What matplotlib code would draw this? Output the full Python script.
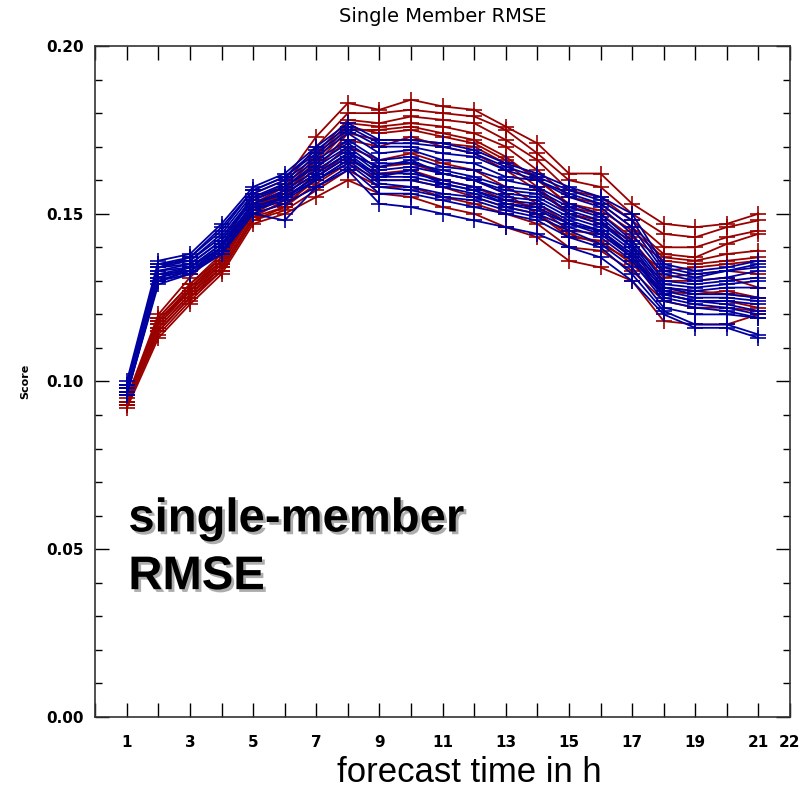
import numpy as np
import matplotlib
matplotlib.use("Agg")
import matplotlib.pyplot as plt
from matplotlib.ticker import MultipleLocator, FixedLocator
import matplotlib.patheffects as pe

# forecast hours
hours = list(range(1, 22))

# red member set
red_members = [
    [0.095, 0.120, 0.131, 0.140, 0.156, 0.160, 0.173, 0.183, 0.181, 0.184, 0.182, 0.181, 0.176, 0.171, 0.162, 0.162, 0.153, 0.147, 0.146, 0.147, 0.150],
    [0.094, 0.119, 0.129, 0.138, 0.154, 0.159, 0.170, 0.180, 0.180, 0.181, 0.180, 0.179, 0.175, 0.168, 0.160, 0.158, 0.150, 0.144, 0.143, 0.146, 0.148],
    [0.094, 0.118, 0.128, 0.137, 0.153, 0.158, 0.168, 0.178, 0.177, 0.179, 0.178, 0.177, 0.172, 0.166, 0.157, 0.155, 0.148, 0.140, 0.140, 0.143, 0.145],
    [0.093, 0.117, 0.127, 0.136, 0.152, 0.157, 0.167, 0.177, 0.176, 0.177, 0.176, 0.174, 0.170, 0.163, 0.155, 0.153, 0.146, 0.138, 0.137, 0.141, 0.144],
    [0.093, 0.116, 0.126, 0.135, 0.151, 0.156, 0.165, 0.175, 0.175, 0.176, 0.174, 0.172, 0.167, 0.160, 0.153, 0.151, 0.145, 0.137, 0.136, 0.138, 0.139],
    [0.094, 0.118, 0.128, 0.136, 0.150, 0.155, 0.164, 0.172, 0.170, 0.173, 0.170, 0.168, 0.163, 0.157, 0.150, 0.148, 0.140, 0.133, 0.134, 0.135, 0.136],
    [0.093, 0.115, 0.125, 0.134, 0.149, 0.154, 0.162, 0.170, 0.166, 0.168, 0.165, 0.163, 0.158, 0.153, 0.147, 0.145, 0.138, 0.130, 0.130, 0.131, 0.128],
    [0.094, 0.117, 0.127, 0.135, 0.150, 0.153, 0.160, 0.166, 0.162, 0.163, 0.160, 0.158, 0.154, 0.152, 0.145, 0.144, 0.137, 0.128, 0.127, 0.126, 0.125],
    [0.093, 0.116, 0.126, 0.134, 0.149, 0.152, 0.159, 0.165, 0.160, 0.160, 0.158, 0.155, 0.152, 0.150, 0.143, 0.142, 0.135, 0.126, 0.124, 0.124, 0.122],
    [0.093, 0.114, 0.124, 0.133, 0.148, 0.151, 0.157, 0.163, 0.158, 0.158, 0.155, 0.153, 0.150, 0.147, 0.140, 0.139, 0.133, 0.124, 0.122, 0.122, 0.121],
    [0.092, 0.113, 0.123, 0.132, 0.147, 0.150, 0.155, 0.160, 0.156, 0.155, 0.152, 0.150, 0.146, 0.143, 0.136, 0.134, 0.130, 0.118, 0.117, 0.117, 0.120],
    [0.094, 0.119, 0.129, 0.137, 0.152, 0.156, 0.166, 0.176, 0.174, 0.175, 0.173, 0.171, 0.166, 0.161, 0.152, 0.150, 0.143, 0.136, 0.135, 0.136, 0.137],
    [0.093, 0.115, 0.125, 0.133, 0.148, 0.152, 0.161, 0.168, 0.164, 0.165, 0.162, 0.160, 0.156, 0.150, 0.144, 0.141, 0.136, 0.127, 0.126, 0.127, 0.125],
    [0.094, 0.118, 0.127, 0.136, 0.151, 0.157, 0.163, 0.174, 0.172, 0.172, 0.171, 0.170, 0.165, 0.158, 0.150, 0.147, 0.142, 0.131, 0.132, 0.133, 0.132],
]

# blue member set
blue_members = [
    [0.100, 0.136, 0.138, 0.147, 0.158, 0.162, 0.170, 0.177, 0.172, 0.172, 0.171, 0.169, 0.165, 0.162, 0.158, 0.155, 0.150, 0.135, 0.133, 0.134, 0.136],
    [0.099, 0.135, 0.137, 0.145, 0.157, 0.161, 0.168, 0.175, 0.170, 0.170, 0.168, 0.167, 0.163, 0.160, 0.156, 0.153, 0.146, 0.133, 0.131, 0.133, 0.135],
    [0.099, 0.135, 0.136, 0.144, 0.156, 0.160, 0.167, 0.174, 0.168, 0.169, 0.166, 0.165, 0.161, 0.160, 0.155, 0.152, 0.144, 0.132, 0.130, 0.131, 0.133],
    [0.098, 0.134, 0.136, 0.143, 0.155, 0.159, 0.166, 0.172, 0.166, 0.167, 0.164, 0.163, 0.160, 0.158, 0.153, 0.150, 0.142, 0.130, 0.129, 0.130, 0.131],
    [0.098, 0.134, 0.135, 0.142, 0.155, 0.158, 0.165, 0.171, 0.165, 0.165, 0.163, 0.161, 0.158, 0.157, 0.152, 0.149, 0.141, 0.129, 0.128, 0.129, 0.130],
    [0.098, 0.133, 0.135, 0.142, 0.154, 0.158, 0.164, 0.170, 0.163, 0.164, 0.162, 0.160, 0.156, 0.155, 0.150, 0.147, 0.140, 0.128, 0.126, 0.126, 0.125],
    [0.097, 0.133, 0.134, 0.141, 0.153, 0.157, 0.163, 0.169, 0.162, 0.162, 0.160, 0.158, 0.155, 0.154, 0.149, 0.146, 0.139, 0.127, 0.125, 0.125, 0.124],
    [0.097, 0.132, 0.134, 0.140, 0.153, 0.156, 0.162, 0.168, 0.161, 0.161, 0.159, 0.157, 0.154, 0.153, 0.148, 0.145, 0.138, 0.126, 0.124, 0.123, 0.121],
    [0.097, 0.131, 0.133, 0.140, 0.152, 0.155, 0.161, 0.167, 0.160, 0.160, 0.158, 0.156, 0.153, 0.152, 0.147, 0.144, 0.137, 0.125, 0.123, 0.122, 0.120],
    [0.096, 0.130, 0.133, 0.139, 0.151, 0.155, 0.160, 0.166, 0.159, 0.158, 0.156, 0.155, 0.152, 0.150, 0.146, 0.143, 0.136, 0.124, 0.122, 0.121, 0.119],
    [0.096, 0.130, 0.132, 0.139, 0.151, 0.154, 0.160, 0.165, 0.158, 0.157, 0.155, 0.154, 0.151, 0.149, 0.145, 0.141, 0.134, 0.122, 0.120, 0.120, 0.119],
    [0.096, 0.129, 0.132, 0.138, 0.150, 0.153, 0.158, 0.164, 0.156, 0.156, 0.154, 0.152, 0.150, 0.148, 0.143, 0.140, 0.132, 0.121, 0.117, 0.117, 0.114],
    [0.097, 0.130, 0.133, 0.138, 0.150, 0.148, 0.158, 0.163, 0.153, 0.152, 0.150, 0.148, 0.146, 0.144, 0.140, 0.137, 0.130, 0.120, 0.116, 0.116, 0.113],
    [0.099, 0.134, 0.137, 0.146, 0.157, 0.161, 0.169, 0.176, 0.171, 0.171, 0.170, 0.168, 0.164, 0.161, 0.157, 0.154, 0.148, 0.134, 0.132, 0.133, 0.134],
    [0.098, 0.131, 0.134, 0.141, 0.153, 0.156, 0.162, 0.168, 0.164, 0.166, 0.162, 0.160, 0.157, 0.156, 0.151, 0.148, 0.140, 0.128, 0.127, 0.128, 0.128],
    [0.097, 0.132, 0.133, 0.140, 0.152, 0.155, 0.161, 0.167, 0.161, 0.163, 0.159, 0.157, 0.153, 0.151, 0.147, 0.145, 0.137, 0.126, 0.124, 0.124, 0.123],
]

xtick_pos = [1, 3, 5, 7, 9, 11, 13, 15, 17, 19, 21, 22]
ytick_pos = [0.00, 0.05, 0.10, 0.15, 0.20]

red = "#990000"
blue = "#0000a0"

fig = plt.figure(figsize=(8, 7.91), dpi=100)
ax = fig.add_axes([0.119, 0.0936, 0.8685, 0.8482])

for vals in red_members:
    ax.plot(hours, vals, color=red, lw=1.3, marker="+", ms=11, mew=1.2)
for vals in blue_members:
    ax.plot(hours, vals, color=blue, lw=1.3, marker="+", ms=11, mew=1.2)

ax.set_xlim(0, 22)
ax.set_ylim(0, 0.2)

ax.xaxis.set_major_locator(FixedLocator(xtick_pos))
ax.xaxis.set_minor_locator(MultipleLocator(1))
ax.set_xticklabels([str(v) for v in xtick_pos])
ax.yaxis.set_major_locator(FixedLocator(ytick_pos))
ax.yaxis.set_minor_locator(MultipleLocator(0.01))
ax.set_yticklabels(["%.2f" % v for v in ytick_pos])

ax.tick_params(axis="x", which="both", direction="in", top=True, length=10, width=1, pad=13,
               labelsize=11)
ax.tick_params(axis="y", which="major", direction="in", right=True, length=10, width=1, pad=8,
               labelsize=11)
ax.tick_params(axis="y", which="minor", direction="in", right=True, length=5, width=1)
for lab in ax.get_xticklabels() + ax.get_yticklabels():
    lab.set_fontweight("bold")
for s in ax.spines.values():
    s.set_linewidth(1.2)
    s.set_color("#333333")

ax.set_title("Single Member RMSE", fontsize=14, pad=17)
fig.text(0.031, 0.518, "Score", rotation=90, fontsize=8, fontweight="bold",
         ha="center", va="center")
fig.text(0.587, 0.024, "forecast time in h", fontsize=25, family="Liberation Sans",
         ha="center", va="center")

shadow = [pe.SimplePatchShadow(offset=(2, -2), shadow_rgbFace="#999999", alpha=0.8), pe.Normal()]
ax.text(1.05, 0.0553, "single-member", fontsize=34, fontweight="bold",
        family="Liberation Sans", ha="left", va="baseline", path_effects=shadow)
ax.text(1.05, 0.0381, "RMSE", fontsize=34, fontweight="bold",
        family="Liberation Sans", ha="left", va="baseline", path_effects=shadow)

fig.savefig("out.png", dpi=100)
